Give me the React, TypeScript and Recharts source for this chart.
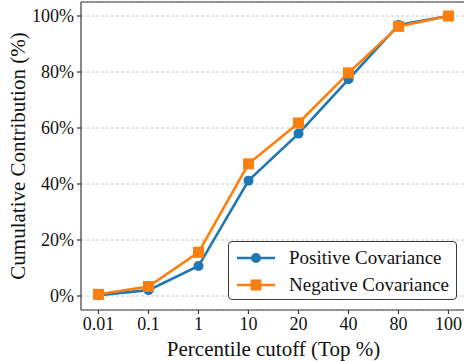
import { LineChart, Line, XAxis, YAxis, CartesianGrid, Legend, ReferenceLine } from 'recharts';

const cutoffs = ['0.01', '0.1', '1', '10', '20', '40', '80', '100'];
const positiveCov = [0.3, 2.1, 10.7, 41.2, 58, 77.4, 96.8, 100];
const negativeCov = [0.6, 3.4, 15.6, 47.2, 61.8, 79.7, 96.3, 100];
const yTicks = [0, 20, 40, 60, 80, 100];

const BLUE = '#1f77b4';
const ORANGE = '#ff7f0e';
const AXIS = '#3a3a3a';
const FONT = "'Liberation Serif', serif";

const data = cutoffs.map((c, i) => ({ cutoff: c, pos: positiveCov[i], neg: negativeCov[i] }));

const SquareDot = (props: any) => {
  const { cx, cy, index } = props;
  if (cx == null || cy == null) return null;
  return <rect key={`sq-${index}`} x={cx - 5.5} y={cy - 5.5} width={11} height={11} fill={ORANGE} />;
};

const legendItems = [
  { name: 'Positive Covariance', color: BLUE, marker: 'circle' },
  { name: 'Negative Covariance', color: ORANGE, marker: 'square' },
];

function LegendBox() {
  return (
    <div
      style={{
        width: 229,
        height: 59,
        border: `1px solid ${AXIS}`,
        borderRadius: 4,
        background: 'rgba(255,255,255,0.85)',
        fontFamily: FONT,
        fontSize: 19,
        color: '#111',
        paddingTop: 2,
        boxSizing: 'border-box',
        textAlign: 'left',
      }}
    >
      {legendItems.map((item) => (
        <div key={item.name} style={{ display: 'flex', alignItems: 'center', height: 27 }}>
          <svg width={60} height={20} style={{ flexShrink: 0 }}>
            <line x1={8} y1={10} x2={46} y2={10} stroke={item.color} strokeWidth={2.6} />
            {item.marker === 'circle' ? (
              <circle cx={27} cy={10} r={5} fill={item.color} />
            ) : (
              <rect x={21.5} y={4.5} width={11} height={11} fill={item.color} />
            )}
          </svg>
          <span>{item.name}</span>
        </div>
      ))}
    </div>
  );
}

export default function App() {
  return (
    <div style={{ position: 'absolute', left: 0, top: 0, width: 464, height: 361, overflow: 'hidden', background: '#fff', fontFamily: FONT }}>
      <LineChart width={470} height={361} data={data} margin={{ top: 2, right: 4, left: 0, bottom: 0 }} style={{ fontFamily: FONT }}>
        <CartesianGrid vertical={false} stroke="#c8c8c8" strokeDasharray="3 2" />
        <XAxis
          dataKey="cutoff"
          padding={{ left: 17.5, right: 17.5 }}
          height={51}
          stroke={AXIS}
          strokeWidth={1.2}
          tickSize={4}
          tickMargin={3}
          tick={{ fill: '#111', fontSize: 18, style: { fontFamily: FONT } }}
          label={{ value: 'Percentile cutoff (Top %)', position: 'insideBottom', offset: 5, fill: '#111', fontSize: 21, style: { fontFamily: FONT } }}
        />
        <YAxis
          domain={[-5, 105]}
          ticks={yTicks}
          width={81}
          stroke={AXIS}
          strokeWidth={1.2}
          tickSize={4}
          tickMargin={3}
          tickFormatter={(v) => `${v}%`}
          tick={{ fill: '#111', fontSize: 18, style: { fontFamily: FONT } }}
          label={{
            value: 'Cumulative Contribution (%)',
            angle: -90,
            position: 'insideLeft',
            offset: 18,
            fill: '#111',
            fontSize: 21,
            style: { textAnchor: 'middle', fontFamily: FONT },
          }}
        />
        <ReferenceLine y={105} stroke={AXIS} strokeWidth={1.2} />
        <Legend
          content={<LegendBox />}
          layout="vertical"
          verticalAlign="middle"
          align="center"
          wrapperStyle={{ left: 228, top: 241, width: 229, height: 59 }}
        />
        <Line
          type="linear"
          dataKey="pos"
          name="Positive Covariance"
          stroke={BLUE}
          strokeWidth={2.6}
          dot={{ r: 5, fill: BLUE, stroke: BLUE, strokeWidth: 0 }}
          activeDot={false}
          isAnimationActive={false}
        />
        <Line
          type="linear"
          dataKey="neg"
          name="Negative Covariance"
          stroke={ORANGE}
          strokeWidth={2.6}
          dot={SquareDot}
          activeDot={false}
          isAnimationActive={false}
        />
      </LineChart>
    </div>
  );
}
